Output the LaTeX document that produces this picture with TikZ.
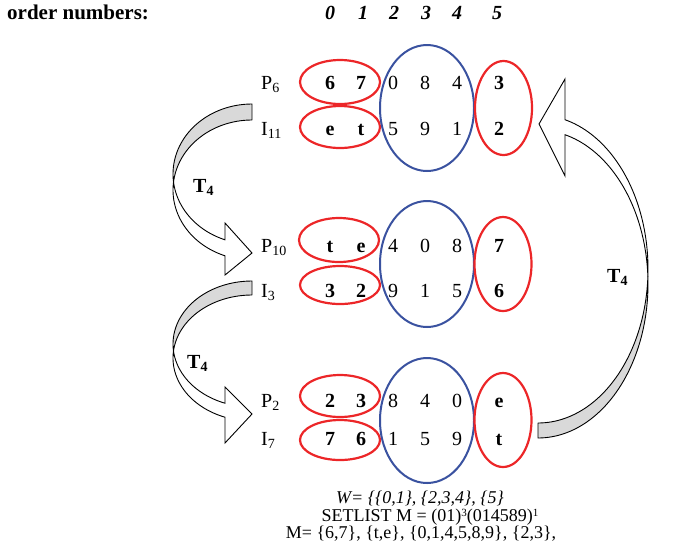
\documentclass[tikz,border=0pt]{standalone}
\usepackage{fontspec}
\setmainfont{Liberation Serif}
\usepackage{tikz}
\usetikzlibrary{positioning}
\definecolor{ovalred}{RGB}{236,38,40}
\definecolor{ovalblue}{RGB}{58,82,160}
\definecolor{backgray}{RGB}{217,217,217}
\tikzset{
    digit/.style={inner sep=0pt, anchor=base, font=\fontsize{20}{24}\selectfont},
    keydigit/.style={digit, font=\fontsize{20}{24}\selectfont\bfseries},
    rowlabel/.style={inner sep=0pt, anchor=base west, font=\fontsize{20}{24}\selectfont},
    header/.style={inner sep=0pt, anchor=base, font=\fontsize{20}{24}\selectfont\bfseries\itshape},
    tlabel/.style={inner sep=0pt, anchor=base west, font=\fontsize{20}{24}\selectfont\bfseries},
    note/.style={inner sep=0pt, anchor=base, font=\fontsize{18}{20}\selectfont},
    redoval/.style={draw=ovalred, line width=2.2pt},
    blueoval/.style={draw=ovalblue, line width=2pt},
    backband/.style={draw=black, fill=backgray, line width=0.9pt, line join=round},
    frontband/.style={draw=black, fill=white, line width=0.9pt}
}
% one row of symbols: y, name, six entries
\newcommand{\digitrow}[8]{%
    \node[keydigit] (#2a) at (330,#1) {#3};
    \node[keydigit] (#2b) at (361,#1) {#4};
    \node[digit] (#2c) at (393,#1) {#5};
    \node[digit] (#2d) at (425,#1) {#6};
    \node[digit] (#2e) at (457,#1) {#7};
    \node[keydigit] (#2f) at (499,#1) {#8};
}
\newcommand{\expo}[1]{\raisebox{5pt}{\fontsize{11}{11}\selectfont #1}}

\begin{document}
\begin{tikzpicture}[x=1pt, y=-1pt]
    \useasboundingbox (0,0) rectangle (700,550);

    % curved arrows
    \filldraw[backband] plot[domain=270:173.44, samples=40] ({252+79*cos(\x)},{174+70*sin(\x)})
        -- plot[domain=186.56:270, samples=40] ({252+79*cos(\x)},{190+70*sin(\x)}) -- cycle;
    \filldraw[frontband] plot[domain=186.56:110, samples=40] ({252+79*cos(\x)},{190+70*sin(\x)})
        -- (225,275) -- (252,253) -- (225,223)
        -- plot[domain=110:173.44, samples=40] ({252+79*cos(\x)},{174+70*sin(\x)}) -- cycle;

    \filldraw[backband] plot[domain=270:173.62, samples=40] ({252+79*cos(\x)},{344+63*sin(\x)})
        -- plot[domain=186.38:270, samples=40] ({252+79*cos(\x)},{358+63*sin(\x)}) -- cycle;
    \filldraw[frontband] plot[domain=186.38:110, samples=40] ({252+79*cos(\x)},{358+63*sin(\x)})
        -- (225,443) -- (252,414) -- (225,387)
        -- plot[domain=110:173.62, samples=40] ({252+79*cos(\x)},{344+63*sin(\x)}) -- cycle;

    \filldraw[backband] plot[domain=90:-2.79, samples=50] ({538+110*cos(\x)},{284+154*sin(\x)})
        -- plot[domain=2.79:90, samples=50] ({538+110*cos(\x)},{269+154*sin(\x)}) -- cycle;
    \filldraw[frontband] plot[domain=2.79:-75.8, samples=50] ({538+110*cos(\x)},{269+154*sin(\x)})
        -- (565,79) -- (539,124) -- (565,176)
        -- plot[domain=-75.8:-2.79, samples=50] ({538+110*cos(\x)},{284+154*sin(\x)}) -- cycle;

    % groups
    \draw[redoval] (340,82) ellipse [x radius=40, y radius=22];
    \draw[redoval] (340,127) ellipse [x radius=40, y radius=21];
    \draw[blueoval] (427,108) ellipse [x radius=47, y radius=63];
    \draw[redoval] (503.5,108) ellipse [x radius=28.5, y radius=47];

    \draw[redoval] (339,240) ellipse [x radius=40, y radius=22];
    \draw[redoval] (340,285) ellipse [x radius=40, y radius=19];
    \draw[blueoval] (427,264) ellipse [x radius=47, y radius=63];
    \draw[redoval] (503,264) ellipse [x radius=28.5, y radius=47];

    \draw[redoval] (340,396) ellipse [x radius=40, y radius=21];
    \draw[redoval] (340,440) ellipse [x radius=40, y radius=20];
    \draw[blueoval] (427,420.5) ellipse [x radius=47, y radius=62.5];
    \draw[redoval] (503,420) ellipse [x radius=28.5, y radius=47];

    % headings
    \node[inner sep=0pt, anchor=base west, font=\fontsize{21}{24}\selectfont\bfseries] (ordlabel) at (7,19) {order numbers:};
    \node[header] (h0) at (330,19) {0};
    \node[header] (h1) at (363,19) {1};
    \node[header] (h2) at (394,19) {2};
    \node[header] (h3) at (426,19) {3};
    \node[header] (h4) at (457,19) {4};
    \node[header] (h5) at (497,19) {5};

    % rows
    \node[rowlabel] (p6) at (261,89) {P\textsubscript{6}};
    \node[rowlabel] (i11) at (261,135) {I\textsubscript{11}};
    \node[rowlabel] (p10) at (261,252) {P\textsubscript{10}};
    \node[rowlabel] (i3) at (261,297) {I\textsubscript{3}};
    \node[rowlabel] (p2) at (261,407) {P\textsubscript{2}};
    \node[rowlabel] (i7) at (261,445) {I\textsubscript{7}};
    \digitrow{89}{rp6}{6}{7}{0}{8}{4}{3}
    \digitrow{135}{ri11}{e}{t}{5}{9}{1}{2}
    \digitrow{252}{rp10}{t}{e}{4}{0}{8}{7}
    \digitrow{297}{ri3}{3}{2}{9}{1}{5}{6}
    \digitrow{407}{rp2}{2}{3}{8}{4}{0}{e}
    \digitrow{445}{ri7}{7}{6}{1}{5}{9}{t}

    \node[tlabel] (t1) at (193,192) {T\textsubscript{4}};
    \node[tlabel] (t2) at (187,368) {T\textsubscript{4}};
    \node[tlabel] (t3) at (607,282) {T\textsubscript{4}};

    % result
    \node[note, font=\fontsize{18}{20}\selectfont\itshape] (wset) at (420,503) {W= \{\{0,1\}, \{2,3,4\}, \{5\}};
    \node[note] (setlist) at (430,521) {SETLIST M = (01)\expo{3}(014589)\expo{1}};
    \node[note] (mset) at (421,538) {M= \{6,7\}, \{t,e\}, \{0,1,4,5,8,9\}, \{2,3\},};
\end{tikzpicture}
\end{document}
